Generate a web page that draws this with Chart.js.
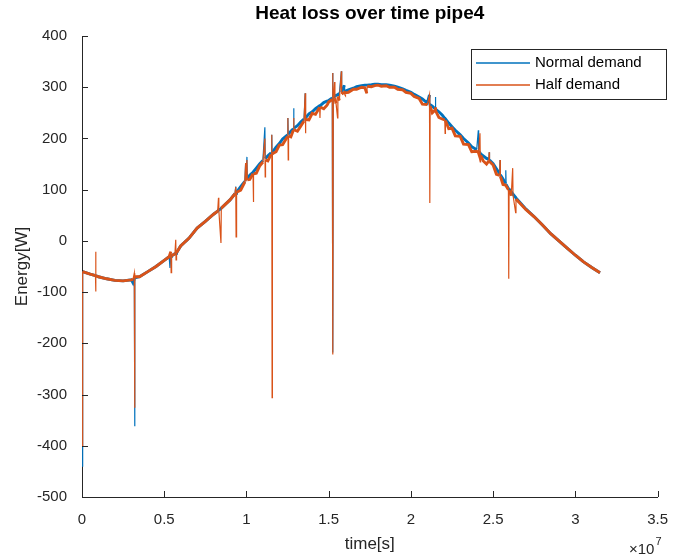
<!DOCTYPE html>
<html>
<head>
<meta charset="utf-8">
<script src="https://cdn.jsdelivr.net/npm/chart.js@4.4.0/dist/chart.umd.min.js"></script>
<style>
  html, body { margin: 0; padding: 0; background: #fff; }
</style>
</head>
<body>
<canvas id="myChart" width="682" height="557"></canvas>
<script>
// time in seconds (axis shows them x 10^7)
const timeSec = [
  0, 0.004e7, 0.05e7, 0.082e7, 0.083e7, 0.084e7, 0.085e7, 0.1e7, 0.15e7, 0.2e7,
  0.25e7, 0.3e7, 0.31e7, 0.318e7, 0.32e7, 0.322e7, 0.35e7, 0.4e7, 0.45e7, 0.5e7,
  0.53e7, 0.535e7, 0.54e7, 0.542e7, 0.545e7, 0.565e7, 0.57e7, 0.572e7, 0.575e7, 0.6e7,
  0.65e7, 0.7e7, 0.75e7, 0.8e7, 0.825e7, 0.83e7, 0.832e7, 0.845e7, 0.847e7, 0.9e7,
  0.93e7, 0.935e7, 0.937e7, 0.94e7,
  0.965e7, 0.99e7, 0.995e7, 0.997e7, 1.003e7, 1.005e7, 1.02e7, 1.04e7, 1.042e7, 1.044e7,
  1.06e7, 1.08e7, 1.1e7, 1.112e7, 1.114e7, 1.116e7, 1.13e7, 1.15e7, 1.154e7, 1.156e7,
  1.158e7, 1.18e7, 1.2e7, 1.22e7, 1.25e7, 1.252e7, 1.254e7, 1.256e7, 1.27e7, 1.285e7,
  1.287e7, 1.289e7, 1.31e7, 1.33e7, 1.35e7, 1.357e7, 1.359e7, 1.361e7, 1.38e7, 1.4e7,
  1.42e7, 1.445e7, 1.447e7, 1.449e7, 1.47e7, 1.49e7, 1.5e7, 1.522e7, 1.524e7, 1.526e7,
  1.528e7, 1.536e7, 1.538e7, 1.545e7, 1.554e7, 1.556e7, 1.565e7, 1.577e7, 1.579e7, 1.595e7,
  1.597e7, 1.62e7, 1.65e7, 1.67e7, 1.7e7, 1.72e7, 1.732e7, 1.734e7, 1.76e7, 1.78e7,
  1.8e7, 1.82e7, 1.85e7, 1.87e7, 1.9e7, 1.92e7, 1.95e7, 1.97e7, 2.0e7, 2.02e7,
  2.05e7, 2.07e7, 2.1e7, 2.113e7, 2.115e7, 2.117e7, 2.13e7, 2.147e7, 2.149e7, 2.151e7,
  2.17e7, 2.19e7, 2.206e7, 2.208e7, 2.21e7, 2.23e7, 2.25e7, 2.27e7, 2.3e7, 2.32e7,
  2.35e7, 2.37e7, 2.4e7, 2.41e7, 2.412e7, 2.42e7, 2.422e7, 2.424e7, 2.44e7, 2.46e7,
  2.474e7, 2.476e7, 2.478e7, 2.5e7, 2.52e7, 2.54e7, 2.542e7, 2.544e7, 2.56e7, 2.575e7,
  2.577e7, 2.579e7, 2.593e7, 2.595e7, 2.597e7, 2.61e7, 2.619e7, 2.621e7, 2.637e7, 2.639e7,
  2.7e7, 2.75e7, 2.8e7, 2.85e7, 2.9e7, 2.95e7, 3.0e7, 3.05e7, 3.1e7, 3.15e7
];
const normalDemand = [
  -440, -60, -65, -68, -68, -68, -68, -70, -74, -77,
  -78, -76, -82, -74, -362, -72, -70, -60, -50, -38,
  -31, -53, -30, -30, -29, -25, -25, -24, -23, -10,
  5, 25, 38, 52, 58, 60, 60, 63, 64, 80,
  92, 106, 93, 95,
  106, 116, 152, 117, 164, 121, 128, 134, 134, 134,
  142, 150, 157, 222, 161, 161, 166, 172, 207, 172,
  173, 183, 190, 199, 207, 240, 208, 208, 214, 219,
  259, 220, 225, 232, 238, 288, 240, 241, 248, 252,
  258, 264, 264, 264, 270, 273, 274, 279, 328, -218,
  280, 282, 282, 284, 285, 286, 288, 331, 290, 304,
  292, 295, 298, 301, 303, 304, 304, 304, 305, 306,
  306, 305, 305, 304, 302, 300, 297, 294, 290, 286,
  281, 277, 269, 285, 266, 266, 263, 258, 281, 257,
  252, 246, 239, 239, 238, 230, 223, 216, 207, 200,
  191, 184, 178, 216, 174, 172, 171, 170, 166, 161,
  159, 173, 158, 151, 141, 131, 158, 129, 121, 112,
  138, 110, 102, 102, 101, 96, 92, 91, 85, 84,
  62, 47, 31, 14, 0, -14, -28, -41, -52, -62
];
const halfDemand = [
  -400, -60, -65, -68, -21, -99, -68, -70, -74, -77,
  -78, -76, -75, -63, -326, -70, -70, -60, -50, -38,
  -31, -31, -21, -62, -29, -25, 2, -37, -23, -10,
  5, 25, 38, 52, 58, 84, 60, -4, 64, 80,
  92, 105, 8, 95,
  99, 115, 152, 116, 158, 119, 120, 131, 76, 131,
  132, 146, 154, 200, 125, 158, 156, 169, 207, -306,
  170, 174, 187, 188, 204, 240, 158, 205, 203, 216,
  240, 217, 214, 224, 234, 288, 210, 237, 236, 249,
  247, 261, 240, 261, 258, 265, 271, 276, 328, -222,
  277, 310, 279, 268, 240, 282, 274, 331, 287, 290,
  289, 290, 296, 296, 300, 299, 288, 302, 301, 303,
  304, 302, 303, 300, 300, 296, 295, 290, 288, 282,
  278, 267, 266, 285, 74, 263, 250, 255, 261, 254,
  241, 238, 236, 210, 235, 219, 220, 205, 204, 189,
  188, 174, 175, 173, 171, 210, 154, 167, 156, 150,
  156, 173, 155, 148, 130, 128, 158, 126, 110, 109,
  109, 107, 100, -74, 99, 88, 142, 89, 55, 82,
  61, 47, 31, 14, 0, -14, -28, -41, -52, -62
];
const xTicks = [0, 0.5e7, 1e7, 1.5e7, 2e7, 2.5e7, 3e7, 3.5e7];
const yTicks = [-500, -400, -300, -200, -100, 0, 100, 200, 300, 400];
const seriesNames = ['Normal demand', 'Half demand'];
const seriesColors = ['#0072BD', '#D95319'];

const FONT = '"Liberation Sans", Arial, Helvetica, sans-serif';
const INK = '#262626';

function toPoints(vals) {
  return timeSec.map((t, i) => ({ x: t, y: vals[i] }));
}

// steep jumps are single samples, drawn thin; the noisy band reads thicker
function segWidth(c) {
  const dx = Math.abs(c.p1.x - c.p0.x);
  const dy = Math.abs(c.p1.y - c.p0.y);
  return (dy > 6 && dy > 4 * dx) ? 1.2 : 2.9;
}

const overlay = {
  id: 'overlay',
  afterDraw(chart) {
    const { ctx, chartArea: a, scales: { x, y } } = chart;
    ctx.save();
    // inward ticks like matlab
    ctx.strokeStyle = INK;
    ctx.lineWidth = 1;
    ctx.beginPath();
    yTicks.forEach(v => {
      const py = Math.round(y.getPixelForValue(v)) + 0.5;
      ctx.moveTo(a.left, py); ctx.lineTo(a.left + 6, py);
    });
    xTicks.forEach(v => {
      const px = Math.round(x.getPixelForValue(v)) + 0.5;
      ctx.moveTo(px, a.bottom); ctx.lineTo(px, a.bottom - 6);
    });
    ctx.stroke();

    ctx.fillStyle = '#000';
    ctx.textAlign = 'center';
    ctx.textBaseline = 'middle';
    ctx.font = 'bold 19px ' + FONT;
    ctx.fillText('Heat loss over time pipe4', (a.left + a.right) / 2, 14);

    ctx.fillStyle = INK;
    ctx.font = '17px ' + FONT;
    ctx.fillText('time[s]', (a.left + a.right) / 2, 544);
    ctx.save();
    ctx.translate(22, (a.top + a.bottom) / 2);
    ctx.rotate(-Math.PI / 2);
    ctx.fillText('Energy[W]', 0, 0);
    ctx.restore();

    // exponent
    ctx.textAlign = 'left';
    ctx.textBaseline = 'alphabetic';
    ctx.font = '15px ' + FONT;
    ctx.fillText('\u00d710', 629, 554);
    const w = ctx.measureText('\u00d710').width;
    ctx.font = '11px ' + FONT;
    ctx.fillText('7', 629 + w + 1, 545);

    // legend
    const lx = 471, ly = 49, lw = 195, lh = 50;
    ctx.fillStyle = '#fff';
    ctx.fillRect(lx, ly, lw, lh);
    ctx.strokeStyle = INK;
    ctx.lineWidth = 1;
    ctx.strokeRect(lx + 0.5, ly + 0.5, lw, lh);
    ctx.font = '15px ' + FONT;
    ctx.textBaseline = 'middle';
    const rows = [63, 85];
    seriesNames.forEach((name, i) => {
      ctx.strokeStyle = seriesColors[i];
      ctx.lineWidth = 1.3;
      ctx.beginPath();
      ctx.moveTo(476, rows[i]); ctx.lineTo(530, rows[i]);
      ctx.stroke();
      ctx.fillStyle = '#000';
      ctx.fillText(name, 535, rows[i]);
    });
    ctx.restore();
  }
};

new Chart(document.getElementById('myChart'), {
  type: 'line',
  data: {
    datasets: [
      { label: seriesNames[0], data: toPoints(normalDemand), borderColor: seriesColors[0],
        borderWidth: 1.5, pointRadius: 0, tension: 0, order: 2,
        segment: { borderWidth: segWidth } },
      { label: seriesNames[1], data: toPoints(halfDemand), borderColor: seriesColors[1],
        borderWidth: 1.5, pointRadius: 0, tension: 0, order: 1,
        segment: { borderWidth: segWidth } }
    ]
  },
  options: {
    responsive: false,
    animation: false,
    layout: { padding: { top: 36, right: 12, left: 0, bottom: 0 } },
    plugins: { legend: { display: false }, tooltip: { enabled: false } },
    scales: {
      x: {
        type: 'linear', min: 0, max: 3.5e7,
        afterFit: s => { s.height = 60; },
        afterBuildTicks: s => { s.ticks = xTicks.map(v => ({ value: v })); },
        grid: { display: false, drawTicks: false },
        border: { display: true, color: INK, width: 1 },
        ticks: { color: INK, font: { family: FONT, size: 15 }, padding: 14, maxRotation: 0,
          callback: v => String(Math.round(v / 1e6) / 10) }
      },
      y: {
        min: -500, max: 400,
        afterFit: s => { s.width = 82; },
        afterBuildTicks: s => { s.ticks = yTicks.map(v => ({ value: v })); },
        grid: { display: false, drawTicks: false },
        border: { display: true, color: INK, width: 1 },
        ticks: { color: INK, font: { family: FONT, size: 15 }, padding: 15 }
      }
    }
  },
  plugins: [overlay]
});
</script>
</body>
</html>
